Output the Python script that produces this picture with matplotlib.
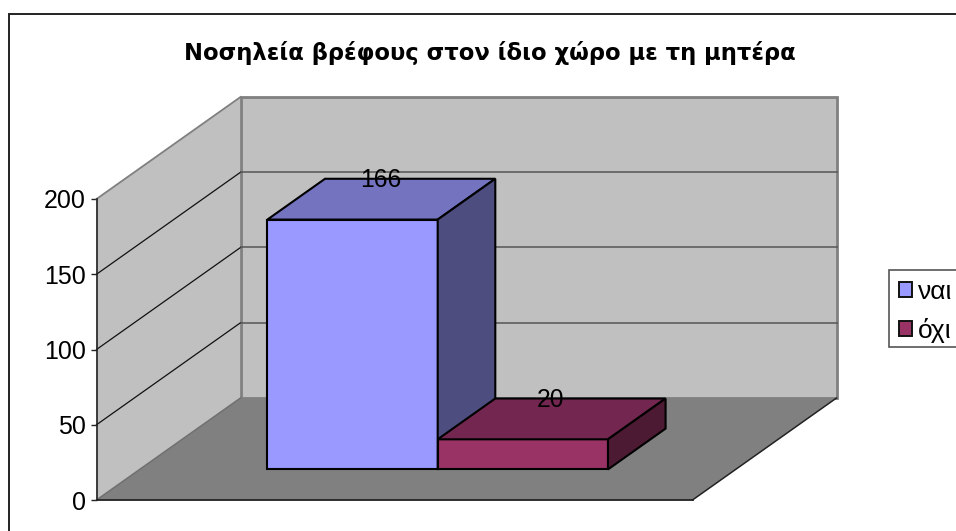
import matplotlib
matplotlib.use('Agg')
import matplotlib.pyplot as plt
from matplotlib.patches import Polygon, Patch, Rectangle

title = "Νοσηλεία βρέφους στον ίδιο χώρο με τη μητέρα"
series_names = ["ναι", "όχι"]
series_values = [166, 20]
y_ticks = [0, 50, 100, 150, 200]

front_colors = ["#9999FF", "#993366"]
top_colors = ["#7373BF", "#732650"]
side_colors = ["#4D4D80", "#4D1A33"]

W, H = 956, 531
# oblique depth: how far the back wall sits from the front plane
DEPTH_X = 144 / 596
DEPTH_Y = 102 / 301 * 200
GAP = 1.5
BAR_DEPTH = 0.4


def project(x, v, z):
    return (x + z * DEPTH_X, v + z * DEPTH_Y)


def face(ax, corners, color, edge, lw, zorder):
    pts = [project(*c) for c in corners]
    ax.add_patch(Polygon(pts, closed=True, facecolor=color, edgecolor=edge, linewidth=lw,
                         joinstyle='miter', clip_on=False, zorder=zorder))


plt.rcParams['font.family'] = ['Liberation Sans', 'DejaVu Sans']
fig = plt.figure(figsize=(W / 100, H / 100), dpi=100)
ax = fig.add_axes([96.5 / W, (H - 500) / H, 596 / W, 301 / H])
ax.set_xlim(0, 1)
ax.set_ylim(0, 200)
ax.patch.set_visible(False)

# outer chart frame, runs off the right and bottom of the image
fig.add_artist(Rectangle((9 / W, -0.1), 1.2, 1.1 - 14 / H, transform=fig.transFigure,
                         facecolor='none', edgecolor='#222222', linewidth=1.4))

top = y_ticks[-1]
wall_edge = '#808080'

# side wall, back wall, floor
face(ax, [(0, 0, 0), (0, top, 0), (0, top, 1), (0, 0, 1)], '#C0C0C0', 'none', 0, 1)
face(ax, [(0, 0, 1), (0, top, 1), (1, top, 1), (1, 0, 1)], '#C0C0C0', wall_edge, 2.0, 1)
face(ax, [(0, 0, 0), (1, 0, 0), (1, 0, 1), (0, 0, 1)], '#808080', 'none', 0, 2)

# gridlines fold from the side wall onto the back wall
for t in y_ticks[1:-1]:
    xs, ys = zip(project(0, t, 0), project(0, t, 1))
    ax.plot(xs, ys, color='#111111', lw=0.9, clip_on=False, zorder=3)
    xs, ys = zip(project(0, t, 1), project(1, t, 1))
    ax.plot(xs, ys, color='#555555', lw=1.1, clip_on=False, zorder=3)

xs, ys = zip(project(0, top, 0), project(0, top, 1))
ax.plot(xs, ys, color=wall_edge, lw=1.3, clip_on=False, zorder=3)
xs, ys = zip(project(0, 0, 0), project(0, 0, 1))
ax.plot(xs, ys, color='#707070', lw=1.1, clip_on=False, zorder=3)
xs, ys = zip(project(1, 0, 0), project(1, 0, 1))
ax.plot(xs, ys, color='#222222', lw=1.1, clip_on=False, zorder=3)
xs, ys = zip(project(0, 0, 0), project(1, 0, 0))
ax.plot(xs, ys, color='#222222', lw=1.3, clip_on=False, zorder=3)

# clustered bars
bar_w = 1 / (len(series_values) + GAP)
z0 = (1 - BAR_DEPTH) / 2
z1 = z0 + BAR_DEPTH
for i, v in enumerate(series_values):
    x0 = GAP / 2 * bar_w + i * bar_w
    x1 = x0 + bar_w
    zo = 4 + i
    face(ax, [(x0, 0, z0), (x1, 0, z0), (x1, v, z0), (x0, v, z0)], front_colors[i], 'black', 1.5, zo)
    face(ax, [(x0, v, z0), (x1, v, z0), (x1, v, z1), (x0, v, z1)], top_colors[i], 'black', 1.5, zo)
    face(ax, [(x1, 0, z0), (x1, 0, z1), (x1, v, z1), (x1, v, z0)], side_colors[i], 'black', 1.5, zo)
    ax.annotate(str(v), project((x0 + x1) / 2, v, 0.5), xytext=(-0.5, 13.5), textcoords='offset points',
                ha='center', va='center', fontsize=17.7, color='black', zorder=10, annotation_clip=False)

# axis
for name in ['top', 'right', 'bottom']:
    ax.spines[name].set_visible(False)
ax.spines['left'].set_color('#222222')
ax.spines['left'].set_linewidth(1.2)
ax.spines['left'].set_zorder(6)
ax.set_xticks([])
ax.set_yticks(y_ticks)
ax.tick_params(axis='y', length=4.5, width=1.0, color='#222222', pad=3, labelsize=18)

fig.text(489.5 / W, 1 - 53 / H, title, family='DejaVu Sans', fontweight='bold', fontsize=16.25,
         ha='center', va='center', color='black')

# legend box is cut by the right edge of the image
fig.add_artist(Rectangle((889 / W, 1 - 347 / H), 100 / W, 77 / H, transform=fig.transFigure,
                         facecolor='white', edgecolor='#555555', linewidth=1.2))
handles = [Patch(facecolor=c, edgecolor='#111111', linewidth=1.4) for c in front_colors]
leg = fig.legend(handles, series_names, loc='upper left', bbox_to_anchor=(889 / W, 1 - 270 / H),
                 borderaxespad=0, fontsize=19, frameon=False, borderpad=0.38, labelspacing=0.52,
                 handlelength=0.5, handleheight=0.5, handletextpad=0.2)

fig.savefig('out.png', dpi=100)
